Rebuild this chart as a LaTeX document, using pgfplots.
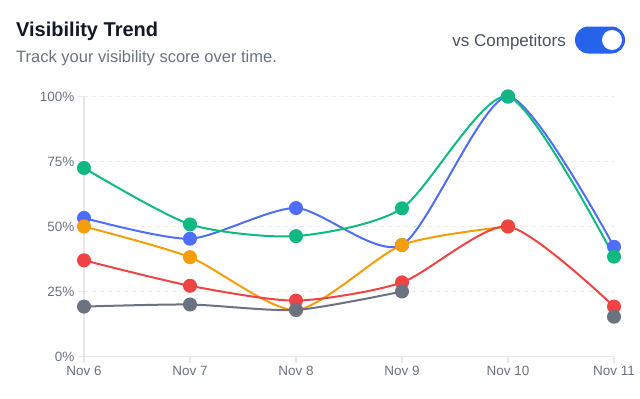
\documentclass[border=0pt]{standalone}
\usepackage{fontspec}
\setmainfont{Liberation Sans}
\usepackage{pgfplots}
\pgfplotsset{compat=1.18}
\definecolor{cgreen}{HTML}{10B981}
\definecolor{cblue}{HTML}{4F6EF7}
\definecolor{corange}{HTML}{F59E0B}
\definecolor{cred}{HTML}{EF4444}
\definecolor{cgray}{HTML}{6B7280}
\definecolor{ctitle}{HTML}{111827}
\definecolor{csub}{HTML}{6B7280}
\definecolor{ctoggle}{HTML}{2563EB}
\definecolor{caxis}{HTML}{E5E7EB}
\definecolor{cgrid}{HTML}{EBEBEB}
\begin{document}
\begin{tikzpicture}
\begin{axis}[
  scale only axis,
  width=530bp, height=260bp,
  xmin=0, xmax=5, ymin=0, ymax=100,
  clip=false,
  axis lines=left,
  axis line style={-, draw=caxis, line width=1.5bp},
  xtick={0,1,2,3,4,5},
  xticklabels={Nov 6,Nov 7,Nov 8,Nov 9,Nov 10,Nov 11},
  ytick={0,25,50,75,100},
  yticklabels={0\%,25\%,50\%,75\%,100\%},
  tick align=outside,
  major tick length=6bp,
  tick style={draw=caxis, line width=1.2bp},
  ymajorgrids,
  major grid style={draw=cgrid, line width=1bp, dash pattern=on 4bp off 4bp},
  tick label style={font=\fontsize{13.5bp}{16bp}\selectfont, text=csub},
  every axis plot/.append style={line width=2bp, smooth, tension=0.42, mark=*, mark size=6bp},
]
\addplot[cblue, mark options={fill=cblue, draw=none}] coordinates {(0,53.3) (1,45.3) (2,57.1) (3,42.9) (4,100) (5,42.2)};
\addplot[cgreen, mark options={fill=cgreen, draw=none}] coordinates {(0,72.5) (1,50.8) (2,46.3) (3,57.0) (4,100) (5,38.4)};
\addplot[corange, mark options={fill=corange, draw=none}] coordinates {(0,50) (1,38.2) (2,17.9) (3,42.9) (4,50)};
\addplot[cred, mark options={fill=cred, draw=none}] coordinates {(0,37.0) (1,27.2) (2,21.5) (3,28.5) (4,50) (5,19.2)};
\addplot[cgray, mark options={fill=cgray, draw=none}] coordinates {(0,19.2) (1,20.0) (2,17.9) (3,25.0)};
\addplot[cgray, only marks, mark options={fill=cgray, draw=none}] coordinates {(5,15.3)};
\end{axis}
\begin{scope}[x=1bp,y=1bp,shift={(-84bp,-41.5bp)}]
\node[anchor=base west, inner sep=0, text=ctitle, font=\fontsize{20bp}{24bp}\selectfont\bfseries] at (16,362) {Visibility Trend};
\node[anchor=base west, inner sep=0, text=csub, font=\fontsize{16.5bp}{20bp}\selectfont] at (16,335.5) {Track your visibility score over time.};
\node[anchor=base east, inner sep=0, text=ctitle!75!white, font=\fontsize{17bp}{20bp}\selectfont] at (566,352) {vs Competitors};
\fill[ctoggle, rounded corners=13.5bp] (575,344.5) rectangle (625,371.5);
\fill[white] (612,358) circle (10);
\pgfresetboundingbox
\useasboundingbox (0,0) rectangle (640,398);
\end{scope}
\end{tikzpicture}
\end{document}
